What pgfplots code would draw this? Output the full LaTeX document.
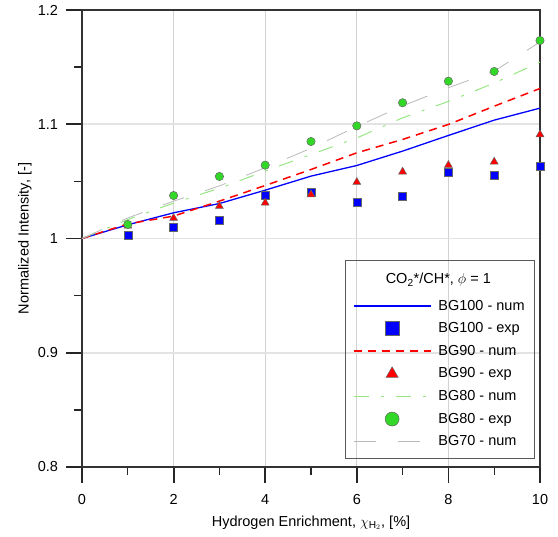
\documentclass[border=0pt]{standalone}
\usepackage{pgfplots}
\pgfplotsset{compat=1.18}
\usepackage{fontspec}
\setmainfont{Liberation Sans}
\definecolor{bgblue}{RGB}{0,0,255}
\definecolor{bgred}{RGB}{255,0,0}
\definecolor{bggreen}{RGB}{50,215,40}
\definecolor{bglgreen}{RGB}{150,230,130}
\definecolor{bglgray}{RGB}{185,185,185}
\begin{document}
\fontsize{14.5bp}{17bp}\selectfont
\begin{tikzpicture}
\path[use as bounding box] (-82bp,-70bp) rectangle (476bp,467bp);
\begin{axis}[
    at={(0,0)}, anchor=south west,
    width=458bp, height=457bp, scale only axis,
    xmin=0, xmax=10, ymin=0.8, ymax=1.2,
    xtick={0,2,4,6,8,10}, ytick={0.8,0.9,1,1.1,1.2},
    minor x tick num=1, minor y tick num=1,
    xtick pos=bottom, ytick pos=left,
    tick align=outside,
    major tick length=16bp, minor tick length=8bp,
    major tick style={black!85, line width=1.8bp},
    minor tick style={black!85, line width=1.4bp},
    axis line style={black!80, line width=1.5bp},
    grid=major,
    major x grid style={gray!35, line width=0.7bp},
    major y grid style={gray!22, line width=1.5bp},
    /pgf/number format/assume math mode=true,
    ticklabel style={font=\fontsize{14.5bp}{17bp}\selectfont},
    xticklabel style={yshift=-6bp},
    yticklabel style={xshift=-3bp},
    xlabel={Hydrogen Enrichment, $\chi_{\mathrm{H}_2}$, [\%]},
    ylabel={Normalized Intensity, [-]},
    every axis x label/.style={at={(axis description cs:0.5,0)}, anchor=base, yshift=-59bp},
    every axis y label/.style={at={(axis description cs:0,0.5)}, xshift=-57bp, rotate=90, anchor=center},
    legend style={at={(rel axis cs:0.591,0.368)}, anchor=north west, draw=none, fill=none,
        inner sep=0pt, row sep=8.6bp, column sep=7bp,
        nodes={inner sep=0pt, text height=11bp, text depth=3bp},
        font=\fontsize{14.5bp}{17bp}\selectfont},
    legend cell align=left,
    legend image code/.code={\draw[mark repeat=2,mark phase=2,#1] plot coordinates {(0bp,0bp) (38.5bp,0bp) (77bp,0bp)};},
    legend image post style={mark size=7bp},
    clip=false,
]
% BG100 - num
\addplot[draw=bgblue, line width=1.3bp] coordinates {
  (0,1.0) (1,1.012) (2,1.0225) (3,1.0306) (4,1.0423) (5,1.0546)
  (6,1.0639) (7,1.0765) (8,1.0902) (9,1.1036) (10,1.1141)
};
\addlegendentry{BG100 - num}
% BG100 - exp
\addplot[only marks, mark=square*, mark size=4bp, mark options={fill=bgblue, draw=black!60, line width=0.5bp}] coordinates {
  (1,1.0032) (2,1.0099) (3,1.0163) (4,1.0379) (5,1.0403)
  (6,1.0321) (7,1.0371) (8,1.0581) (9,1.0557) (10,1.0630)
};
\addlegendentry{BG100 - exp}
% BG90 - num
\addplot[draw=bgred, line width=1.5bp, dash pattern=on 8bp off 6bp] coordinates {
  (0,1.0) (1,1.0128) (2,1.0196) (3,1.0327) (4,1.0464) (5,1.0604)
  (6,1.0750) (7,1.0867) (8,1.0998) (9,1.1158) (10,1.1313)
};
\addlegendentry{BG90 - num}
% BG90 - exp
\addplot[only marks, mark=triangle*, mark size=4.6bp, mark options={fill=bgred, draw=black!60, line width=0.5bp}] coordinates {
  (1,1.0110) (2,1.0178) (3,1.0283) (4,1.0312) (5,1.0385)
  (6,1.0493) (7,1.0584) (8,1.0642) (9,1.0671) (10,1.0910)
};
\addlegendentry{BG90 - exp}
% BG80 - num
\addplot[draw=bglgreen, line width=1bp, dash pattern=on 15bp off 12bp on 3bp off 12bp] coordinates {
  (0,1.0) (1,1.0166) (2,1.0310) (3,1.0440) (4,1.0590) (5,1.0735)
  (6,1.0880) (7,1.1056) (8,1.1200) (9,1.1360) (10,1.1544)
};
\addlegendentry{BG80 - num}
% BG80 - exp
\addplot[only marks, mark=*, mark size=4.2bp, mark options={fill=bggreen, draw=black!60, line width=0.5bp}] coordinates {
  (1,1.0123) (2,1.0376) (3,1.0543) (4,1.0642) (5,1.0849)
  (6,1.0986) (7,1.1188) (8,1.1377) (9,1.1462) (10,1.1733)
};
\addlegendentry{BG80 - exp}
% BG70 - num
\addplot[draw=bglgray, line width=0.8bp, dash pattern=on 22bp off 22bp] coordinates {
  (0,1.0) (1,1.0180) (2,1.0327) (3,1.0460) (4,1.0620) (5,1.0790)
  (6,1.0980) (7,1.1160) (8,1.1320) (9,1.1465) (10,1.1720)
};
\addlegendentry{BG70 - num}
% legend frame and title
\draw[black!65, line width=0.8bp] (rel axis cs:0.576,0.0197) rectangle (rel axis cs:0.987,0.451);
\node at (rel axis cs:0.778,0.409) {CO\textsubscript{2}*/CH*, $\phi$ = 1};
\end{axis}
\end{tikzpicture}
\end{document}
